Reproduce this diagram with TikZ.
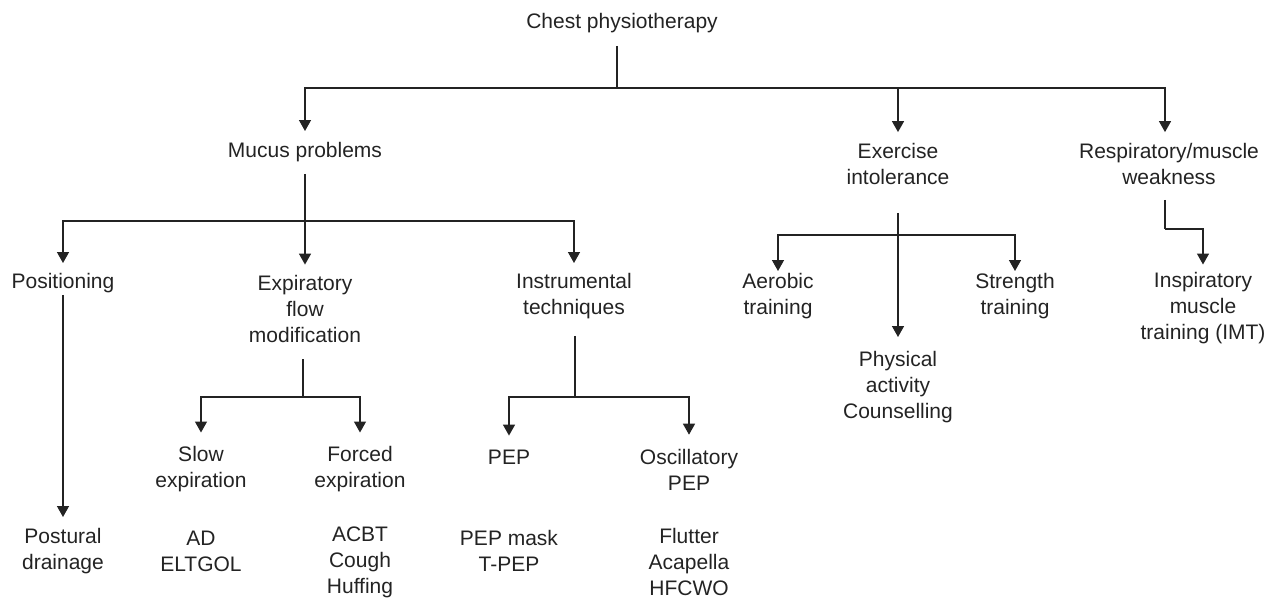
\documentclass[tikz,border=0pt]{standalone}
\usepackage{fontspec}
\setmainfont{Liberation Sans}
\usetikzlibrary{arrows.meta}
\definecolor{ink}{RGB}{35,35,35}
\begin{document}
\begin{tikzpicture}[x=1pt,y=-1pt,
  every node/.style={font=\fontsize{21}{26}\selectfont, align=center, inner sep=0pt, text=ink},
  ln/.style={draw=ink, line width=1.4pt},
  arr/.style={ln, -{Triangle[width=12pt,length=11pt]}}]
\useasboundingbox (0,0) rectangle (1277,600);
% nodes
\node (chest) at (622,23) {Chest physiotherapy};
\node (mucus) at (305,152) {Mucus problems};
\node (exer) at (898,164) {Exercise\\intolerance};
\node (resp) at (1169,164) {Respiratory/muscle\\weakness};
\node (posit) at (63,283) {Positioning};
\node (expir) at (305,308.5) {Expiratory\\flow\\modification};
\node (instr) at (574,296) {Instrumental\\techniques};
\node (aero) at (778,296) {Aerobic\\training};
\node (stren) at (1015,296) {Strength\\training};
\node (insp) at (1203,308.5) {Inspiratory\\muscle\\training (IMT)};
\node (phys) at (898,387) {Physical\\activity\\Counselling};
\node (slow) at (201,469.5) {Slow\\expiration};
\node (forced) at (360,469.5) {Forced\\expiration};
\node (pep) at (509,457) {PEP};
\node (osc) at (689,469.5) {Oscillatory\\PEP};
\node (post) at (63,551) {Postural\\drainage};
\node (ad) at (201,551) {AD\\ELTGOL};
\node (acbt) at (360,562) {ACBT\\Cough\\Huffing};
\node (pepm) at (509,551) {PEP mask\\T-PEP};
\node (flut) at (689,562) {Flutter\\Acapella\\HFCWO};
% junctions
\coordinate (j0) at (617,88);
\coordinate (j1) at (305,221);
\coordinate (j2) at (303,397);
\coordinate (j3) at (575,397);
\coordinate (j4) at (898,235);
\coordinate (j5) at (1165,229);
% level 1
\draw[ln] ([xshift=-5pt,yshift=-13pt]chest.south) -- (j0);
\draw[arr, shorten >=11pt] (j0) -| (mucus.north);
\draw[arr, shorten >=11pt] (j0) -| (exer.north);
\draw[arr, shorten >=11pt] (j0) -| ([xshift=-4pt]resp.north);
% mucus
\draw[ln] ([yshift=-12pt]mucus.south) -- (j1);
\draw[arr, shorten >=10pt] (j1) -| (posit.north);
\draw[arr, shorten >=10pt] (j1) -- (expir.north);
\draw[arr, shorten >=10pt] (j1) -| (instr.north);
% positioning
\draw[arr, shorten >=11pt] ([yshift=-2pt]posit.south) -- (post.north);
% expiratory
\draw[ln] ([xshift=-2pt,yshift=-17pt]expir.south) -- (j2);
\draw[arr, shorten >=14pt] (j2) -| (slow.north);
\draw[arr, shorten >=14pt] (j2) -| (forced.north);
% instrumental
\draw[ln] ([xshift=1pt,yshift=-17pt]instr.south) -- (j3);
\draw[arr, shorten >=14pt] (j3) -| (pep.north);
\draw[arr, shorten >=14pt] (j3) -| (osc.north);
% exercise
\draw[ln] ([yshift=-28pt]exer.south) -- (j4);
\draw[arr, shorten >=2pt] (j4) -| (aero.north);
\draw[arr, shorten >=2pt] (j4) -| (stren.north);
\draw[arr, shorten >=14pt] (j4) -- (phys.north);
% respiratory
\draw[ln] ([xshift=-4pt,yshift=-15pt]resp.south) -- (j5);
\draw[arr, shorten >=8pt] (j5) -| (insp.north);
\end{tikzpicture}
\end{document}
